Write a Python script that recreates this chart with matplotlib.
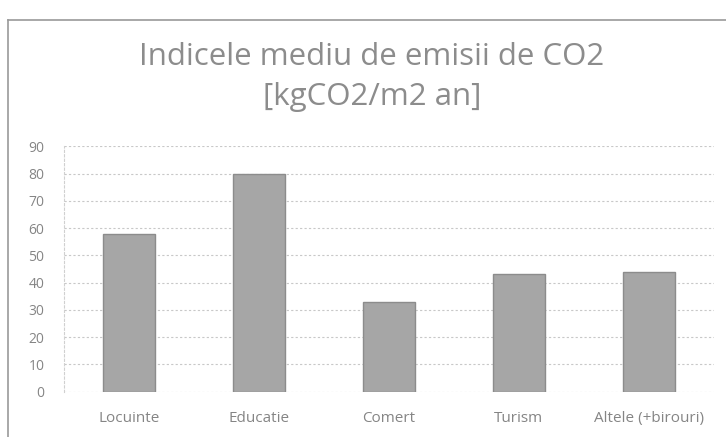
import matplotlib
matplotlib.use("Agg")
import matplotlib.pyplot as plt
from matplotlib.lines import Line2D

categories = ["Locuinte", "Educatie", "Comert", "Turism", "Altele (+birouri)"]
values = [58, 80, 33, 43, 44]
yticks = [0, 10, 20, 30, 40, 50, 60, 70, 80, 90]

fig = plt.figure(figsize=(7.26, 4.37), dpi=100)
ax = fig.add_axes([0.088, 0.104, 0.895, 0.561])

ax.bar(range(len(categories)), values, width=0.4, color="#a6a6a6",
       edgecolor="#8c8c8c", linewidth=1, zorder=3)
ax.set_xlim(-0.5, len(categories) - 0.5)
ax.set_ylim(0, 90)
ax.set_yticks(yticks)
ax.set_xticks(range(len(categories)))
ax.set_xticklabels(categories)
ax.yaxis.grid(True, color="#c8c8c8", linestyle=(0, (2, 2)), linewidth=0.8, zorder=0)
for s in ["top", "right", "bottom"]:
    ax.spines[s].set_visible(False)
ax.spines["left"].set_color("#d0d0d0")
ax.spines["left"].set_linestyle((0, (2, 2)))
ax.tick_params(length=0, colors="#858585")
ax.tick_params(axis="y", pad=14, labelsize=10)
ax.tick_params(axis="x", pad=14, labelsize=11)
for lab in ax.get_xticklabels() + ax.get_yticklabels():
    lab.set_family("Open Sans")

fig.text(0.512, 0.869, "Indicele mediu de emisii de CO2", ha="center", va="center",
         fontsize=22.5, color="#8c8c8c", family="Open Sans")
fig.text(0.512, 0.778, "[kgCO2/m2 an]", ha="center", va="center",
         fontsize=22.5, color="#8c8c8c", family="Open Sans")

fig.add_artist(Line2D([0.011, 1.0], [0.954, 0.954], transform=fig.transFigure,
                      color="#9a9a9a", linewidth=1.2))
fig.add_artist(Line2D([0.011, 0.011], [0.0, 0.954], transform=fig.transFigure,
                      color="#9a9a9a", linewidth=1.2))

fig.savefig("out.png", dpi=100)
